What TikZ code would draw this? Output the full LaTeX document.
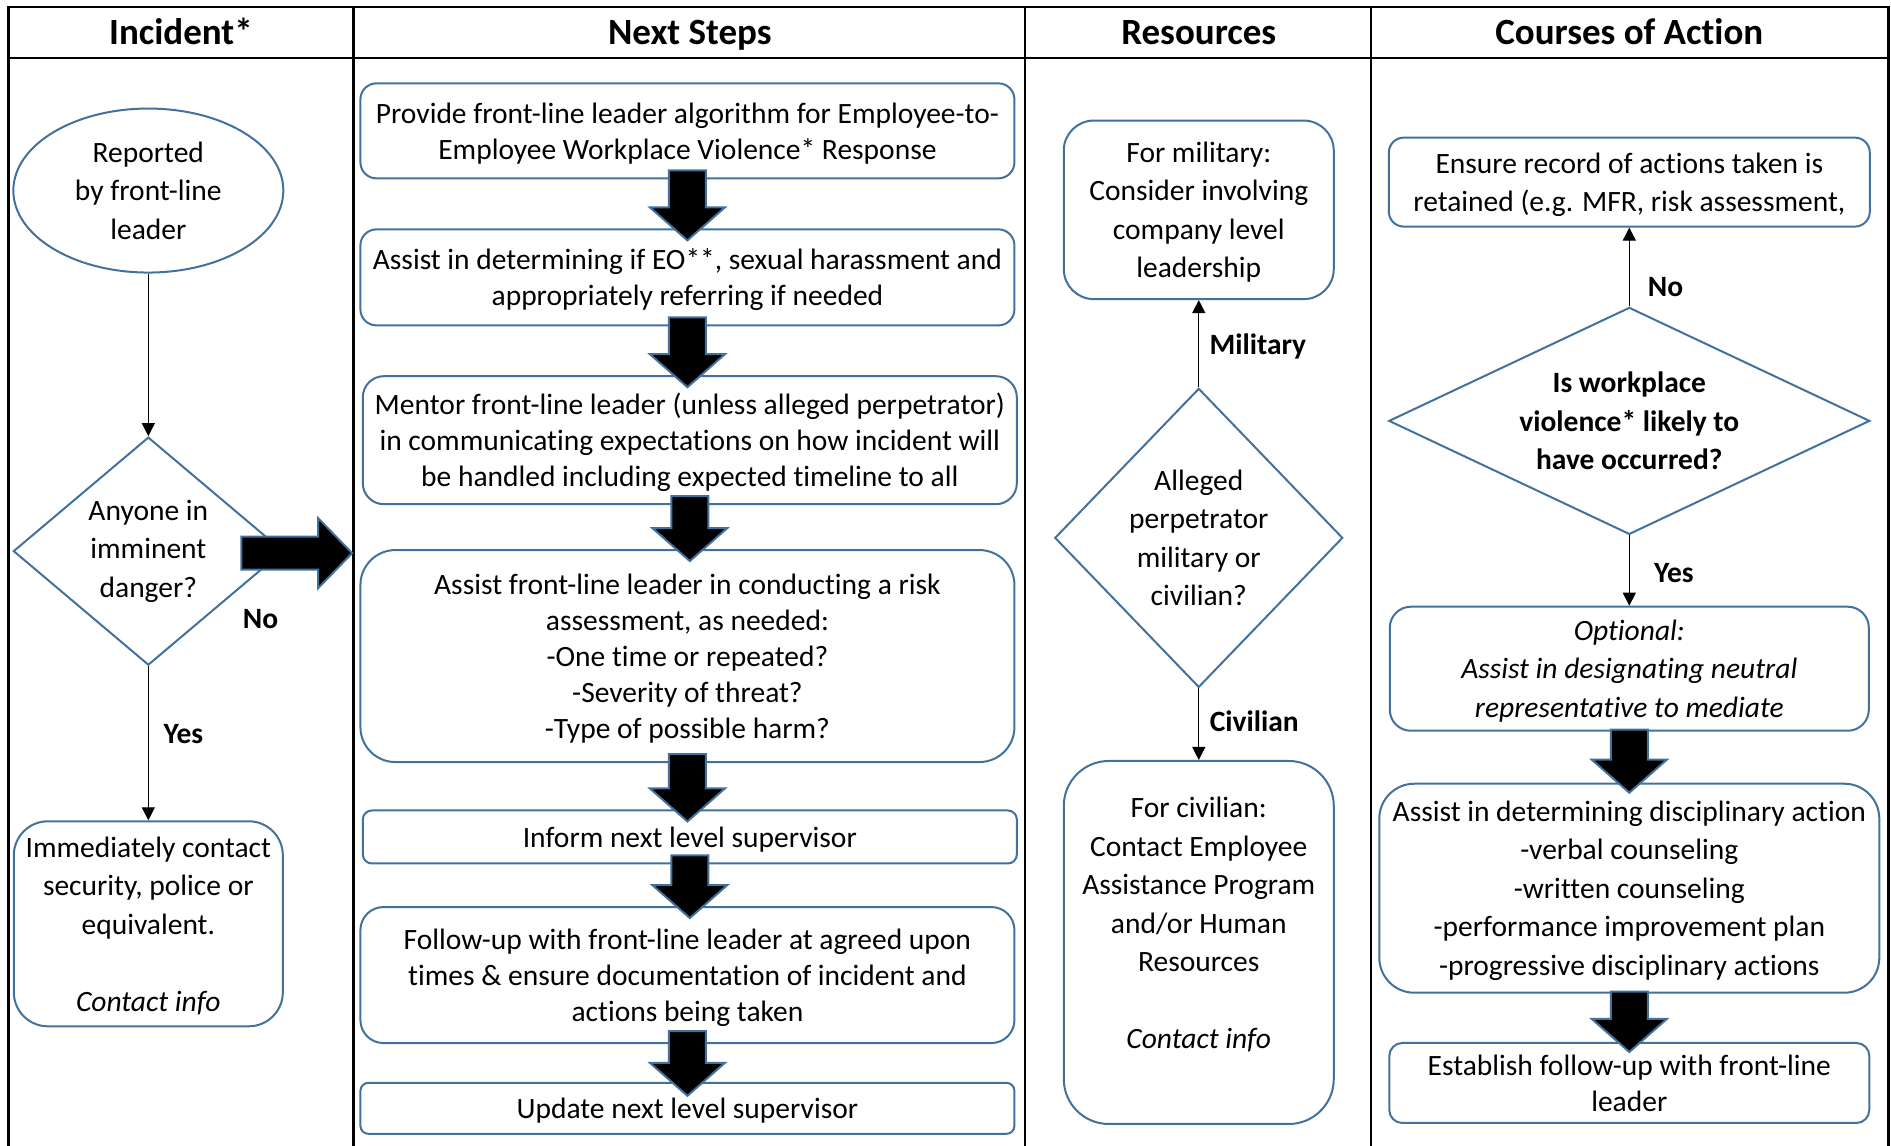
\documentclass[tikz,border=0pt]{standalone}
\usepackage{fontspec}
\setmainfont{Carlito}[RawFeature={-liga;-clig;-dlig}]
\usepackage{xcolor}
\usepackage{tikz}
\usetikzlibrary{shapes.geometric,arrows.meta,calc}

\definecolor{boxblue}{RGB}{65,113,156}
\newcommand{\bodyfont}{\fontsize{29.5}{38.5}\selectfont}
\newcommand{\stepfont}{\fontsize{29.5}{36}\selectfont}
\newcommand{\headfont}{\fontsize{37}{44}\selectfont\bfseries}

\begin{document}
\begin{tikzpicture}[x=1.206pt,y=-1.206pt,
  roundbox/.style={draw=boxblue,line width=2pt,align=center,inner sep=0pt,text depth=0pt,font=\bodyfont},
  stepbox/.style={roundbox,font=\stepfont,minimum width=654pt},
  decision/.style={diamond,draw=boxblue,line width=2pt,align=center,inner sep=0pt,font=\bodyfont},
  flow/.style={-{Triangle[length=13pt,width=13pt]},line width=1.2pt},
  lbl/.style={font=\bodyfont\bfseries},
  blockdown/.style={draw=boxblue,fill=black,line width=2pt,line join=miter,
    to path={let \p1=(\tikztostart),\p2=(\tikztotarget) in
      (\x1-18.5pt,\y1) -- (\x1-18.5pt,\y2+33pt) -- (\x1-37.5pt,\y2+33pt) -- (\x1,\y2)
      -- (\x1+37.5pt,\y2+33pt) -- (\x1+18.5pt,\y2+33pt) -- (\x1+18.5pt,\y1) -- cycle}},
  blockright/.style={draw=boxblue,fill=black,line width=2pt,line join=miter,
    to path={let \p1=(\tikztostart),\p2=(\tikztotarget) in
      (\x1,\y1+16.5pt) -- (\x2-34pt,\y1+16.5pt) -- (\x2-34pt,\y1+35pt) -- (\x2,\y1)
      -- (\x2-34pt,\y1-35pt) -- (\x2-34pt,\y1-16.5pt) -- (\x1,\y1-16.5pt) -- cycle}},
  gridline/.style={line width=2.5pt,line cap=rect}]
\useasboundingbox (0,0) rectangle (1568,950);

%Table frame
\draw[gridline] (7,6) -- (1566,6);
\draw[gridline] (7,48) -- (1566,48);
\foreach \xx in {7,293,850,1137,1566} \draw[gridline] (\xx,6) -- (\xx,950);

% Header Text Nodes
\node[font=\headfont,anchor=base] (hinc) at (150,37) {Incident*};
\node[font=\headfont,anchor=base] (hnext) at (572,37) {Next Steps};
\node[font=\headfont,anchor=base] (hres) at (994,37) {Resources};
\node[font=\headfont,anchor=base] (hcoa) at (1351,37) {Courses of Action};

%Incident column
\node[roundbox,ellipse,minimum width=270pt,minimum height=164pt] (rep) at (123,158) {Reported\\by front-line\\leader};
\node[decision,shape aspect=1.18,minimum width=270pt,minimum height=228pt] (danger) at (123,457) {Anyone in\\imminent\\danger?};
\node[roundbox,rounded corners=34pt,minimum width=269pt,minimum height=205pt] (imm) at (123,766) {Immediately contact\\security, police or\\equivalent.\\[38.5pt]\textit{Contact info}};

%Next steps column
\node[stepbox,rounded corners=16pt,minimum height=95pt] (s1) at (570,108.5) {Provide front-line leader algorithm for Employee-to-\\Employee Workplace Violence* Response};
\node[stepbox,rounded corners=16pt,minimum height=96pt] (s2) at (570,230) {Assist in determining if EO**, sexual harassment and\\appropriately referring if needed};
\node[stepbox,rounded corners=21pt,minimum height=128pt] (s3) at (572,365) {Mentor front-line leader (unless alleged perpetrator)\\in communicating expectations on how incident will\\be handled including expected timeline to all};
\node[stepbox,rounded corners=35pt,minimum height=212pt] (s4) at (570,544) {Assist front-line leader in conducting a risk\\assessment, as needed:\\-One time or repeated?\\-Severity of threat?\\-Type of possible harm?};
\node[stepbox,rounded corners=9pt,minimum height=53pt] (s5) at (572,694) {Inform next level supervisor};
\node[stepbox,rounded corners=23pt,minimum height=136pt] (s6) at (570,808.5) {Follow-up with front-line leader at agreed upon\\times \& ensure documentation of incident and\\actions being taken};
\node[stepbox,rounded corners=8pt,minimum height=51pt] (s7) at (570,919) {Update next level supervisor};

%Resources column
\node[roundbox,rounded corners=30pt,minimum width=270pt,minimum height=178.5pt] (mil) at (994,174) {For military:\\Consider involving\\company level\\leadership};
\node[decision,shape aspect=0.96,minimum width=288pt,minimum height=299pt] (alleged) at (994,446) {Alleged\\perpetrator\\military or\\civilian?};
\node[roundbox,rounded corners=45pt,minimum width=270pt,minimum height=363pt] (civ) at (994,781.5) {For civilian:\\Contact Employee\\Assistance Program\\and/or Human\\Resources\\[38.5pt]\textit{Contact info}\\ \mbox{}};

%Courses of action column
\node[roundbox,rounded corners=15pt,minimum width=481pt,minimum height=89pt] (rec) at (1351,151) {Ensure record of actions taken is\\retained (e.g. MFR, risk assessment,};
\node[decision,shape aspect=2.12,font=\bodyfont\bfseries,minimum width=481pt,minimum height=227pt] (viol) at (1351,349) {Is workplace\\violence* likely to\\have occurred?};
\node[roundbox,rounded corners=21pt,font=\bodyfont\itshape,minimum width=479pt,minimum height=124pt] (opt) at (1351,554.5) {Optional:\\Assist in designating neutral\\representative to mediate};
\node[roundbox,rounded corners=35pt,minimum width=500pt,minimum height=209pt] (disc) at (1351,736.5) {Assist in determining disciplinary action\\-verbal counseling\\-written counseling\\-performance improvement plan\\-progressive disciplinary actions};
\node[roundbox,rounded corners=13pt,font=\stepfont,minimum width=480pt,minimum height=80pt] (fol) at (1351,898) {Establish follow-up with front-line\\leader};

%Straight Lines
\draw[flow] (rep) -- (danger);
\draw[flow] (danger) -- (imm);
\draw[flow] (alleged) -- (mil);
\draw[flow] (alleged) -- (civ);
\draw[flow] (viol) -- (rec);
\draw[flow] (viol) -- (opt);

%Block arrows
\coordinate (nextcol) at (292,459);
\draw[blockright] ([xshift=-43pt,yshift=-2pt]danger.east) to (nextcol);
\draw[blockdown] ([yshift=9pt]s1.south) to ([yshift=-12pt]s2.north);
\draw[blockdown] ([yshift=9pt]s2.south) to ([yshift=-12pt]s3.north);
\draw[blockdown] ([yshift=9pt]s3.south) to ([yshift=-12pt]s4.north);
\draw[blockdown] ([yshift=9pt]s4.south) to ([yshift=-12pt]s5.north);
\draw[blockdown] ([yshift=9pt]s5.south) to ([yshift=-12pt]s6.north);
\draw[blockdown] ([yshift=13pt]s6.south) to ([yshift=-14pt]s7.north);
\draw[blockdown] ([yshift=2pt]opt.south) to ([yshift=-10pt]disc.north);
\draw[blockdown] ([yshift=2pt]disc.south) to ([yshift=-10pt]fol.north);

% Text Node
\node[lbl] (noa) at (216,513) {No};
\node[lbl] (yesa) at (152,609) {Yes};
\node[lbl] (milab) at (1043,287) {Military};
\node[lbl] (civlab) at (1040,598) {Civilian};
\node[lbl] (nob) at (1381,238) {No};
\node[lbl] (yesb) at (1388,475) {Yes};

\end{tikzpicture}
\end{document}
